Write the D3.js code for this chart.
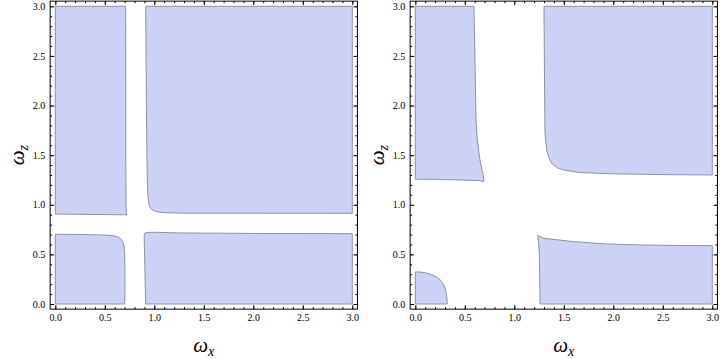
<!DOCTYPE html>
<html>
<head>
<meta charset="utf-8">
<script src="https://cdn.jsdelivr.net/npm/d3@7/dist/d3.min.js"></script>
<style>
  html, body { margin: 0; padding: 0; background: #fff; }
  svg { display: block; }
</style>
</head>
<body>
<svg id="chart" width="720" height="359"></svg>
<script>
// ---- data (data coordinates: [omega_x, omega_z]) ----
const majorTicks = [0, 0.5, 1.0, 1.5, 2.0, 2.5, 3.0];
const tickLabels = ["0.0", "0.5", "1.0", "1.5", "2.0", "2.5", "3.0"];
const minorTicks = d3.range(0, 31).map(i => i / 10);

// Left panel regions
const leftTopLeft = [[0,3],[0.711,3],[0.712,2.0],[0.713,1.3],[0.715,1.0],[0.718,0.93],[0.722,0.898],[0.70,0.899],[0.5,0.901],[0.2,0.904],[0,0.906]];
const leftTopRight = [[0.913,3],[0.92,2.0],[0.928,1.3],[0.935,1.1],[0.94,1.048],[0.948,1.0],[0.958,0.975],[0.975,0.952],[1.007,0.936],[1.06,0.924],[1.125,0.919],[1.3,0.915],[3,0.914],[3,3]];
const leftBottomLeft = [[0,0],[0,0.703],[0.3,0.700],[0.45,0.696],[0.55,0.692],[0.6,0.686],[0.64,0.672],[0.668,0.650],[0.687,0.612],[0.697,0.56],[0.701,0.5],[0.704,0.3],[0.704,0.15],[0.701,0]];
const leftBottomRight = [[0.913,0],[0.906,0.3],[0.901,0.55],[0.898,0.68],[0.9,0.712],[0.92,0.72],[0.99,0.723],[1.26,0.716],[2,0.711],[3,0.709],[3,0]];

// Right panel regions
const rightTopLeft = [[0,3],[0.593,3],[0.603,2.46],[0.613,1.855],[0.626,1.653],[0.653,1.452],[0.681,1.318],[0.694,1.245],[0.692,1.233],[0.653,1.243],[0.451,1.25],[0.2,1.256],[0,1.258]];
const rightTopRight = [[1.30,3],[1.305,2.3],[1.31,1.72],[1.327,1.552],[1.35,1.47],[1.378,1.418],[1.43,1.375],[1.495,1.351],[1.663,1.324],[2,1.312],[2.5,1.304],[3,1.30],[3,3]];
const rightBottomRight = [[1.26,0],[1.256,0.3],[1.253,0.511],[1.245,0.62],[1.236,0.689],[1.25,0.684],[1.293,0.662],[1.45,0.645],[1.6,0.628],[1.933,0.605],[2.27,0.595],[2.6,0.59],[3,0.588],[3,0]];
const rightBottomLeft = [[0,0],[0,0.323],[0.05,0.322],[0.1,0.315],[0.18,0.29],[0.235,0.26],[0.267,0.225],[0.295,0.175],[0.31,0.124],[0.32,0.06],[0.323,0]];

const panelsRegions = [
  [leftTopLeft, leftTopRight, leftBottomLeft, leftBottomRight],
  [rightTopLeft, rightTopRight, rightBottomRight, rightBottomLeft]
];

// ---- drawing ----
const svg = d3.select("#chart");
const fillColor = "#ccd2f5";
const edgeColor = "#8f92a6";
const pad = 0.052;
const panelOffsets = [0, 360];

panelsRegions.forEach((regions, pi) => {
  const off = panelOffsets[pi];
  const x = d3.scaleLinear().domain([0, 3]).range([55.3 + off, 352.3 + off]);
  const y = d3.scaleLinear().domain([0, 3]).range([304, 6.3]);
  const g = svg.append("g");

  const line = d3.line().x(d => x(d[0])).y(d => y(d[1]));
  g.selectAll("path.region").data(regions).join("path")
    .attr("class", "region")
    .attr("d", d => line(d) + "Z")
    .attr("fill", fillColor)
    .attr("stroke", edgeColor)
    .attr("stroke-width", 1)
    .attr("stroke-linejoin", "round");

  const x0 = x(-pad), x1 = x(3 + pad), y0 = y(-pad), y1 = y(3 + pad);

  const fontFam = "'Liberation Serif', 'Times New Roman', serif";
  const styleAxis = (sel) => {
    sel.select(".domain").remove();
    sel.selectAll("line").attr("stroke", "#000").attr("stroke-width", 1);
    sel.selectAll("text").attr("font-family", fontFam).attr("font-size", 10).attr("fill", "#000");
  };

  // bottom axis
  const gb = g.append("g").attr("transform", `translate(0,${y0})`);
  gb.append("g").call(d3.axisBottom(x).tickValues(minorTicks).tickSize(-2).tickFormat(""));
  gb.append("g").call(d3.axisBottom(x).tickValues(majorTicks).tickSize(-4).tickPadding(5)
    .tickFormat((d, i) => tickLabels[i]));
  gb.selectAll("g").call(styleAxis);

  // top axis (no labels)
  const gt = g.append("g").attr("transform", `translate(0,${y1})`);
  gt.append("g").call(d3.axisTop(x).tickValues(minorTicks).tickSize(-2).tickFormat(""));
  gt.append("g").call(d3.axisTop(x).tickValues(majorTicks).tickSize(-4).tickFormat(""));
  gt.selectAll("g").call(styleAxis);

  // left axis
  const gl = g.append("g").attr("transform", `translate(${x0},0)`);
  gl.append("g").call(d3.axisLeft(y).tickValues(minorTicks).tickSize(-2).tickFormat(""));
  gl.append("g").call(d3.axisLeft(y).tickValues(majorTicks).tickSize(-4).tickPadding(5)
    .tickFormat((d, i) => tickLabels[i]));
  gl.selectAll("g").call(styleAxis);

  // right axis (no labels)
  const gr = g.append("g").attr("transform", `translate(${x1},0)`);
  gr.append("g").call(d3.axisRight(y).tickValues(minorTicks).tickSize(-2).tickFormat(""));
  gr.append("g").call(d3.axisRight(y).tickValues(majorTicks).tickSize(-4).tickFormat(""));
  gr.selectAll("g").call(styleAxis);

  // frame
  g.append("rect")
    .attr("x", x0).attr("y", y1)
    .attr("width", x1 - x0).attr("height", y0 - y1)
    .attr("fill", "none").attr("stroke", "#000").attr("stroke-width", 1);

  // axis labels
  const xl = g.append("text")
    .attr("x", x(1.5)).attr("y", 352)
    .attr("text-anchor", "middle")
    .attr("font-family", fontFam).attr("font-style", "italic").attr("font-size", 21);
  xl.append("tspan").text("ω");
  xl.append("tspan").attr("font-size", 14).attr("dy", 4).text("x");

  const yl = g.append("text")
    .attr("transform", `translate(${off + 24},${y(1.5)}) rotate(-90)`)
    .attr("text-anchor", "middle")
    .attr("font-family", fontFam).attr("font-style", "italic").attr("font-size", 21);
  yl.append("tspan").text("ω");
  yl.append("tspan").attr("font-size", 14).attr("dy", 4).text("z");
});
</script>
</body>
</html>
